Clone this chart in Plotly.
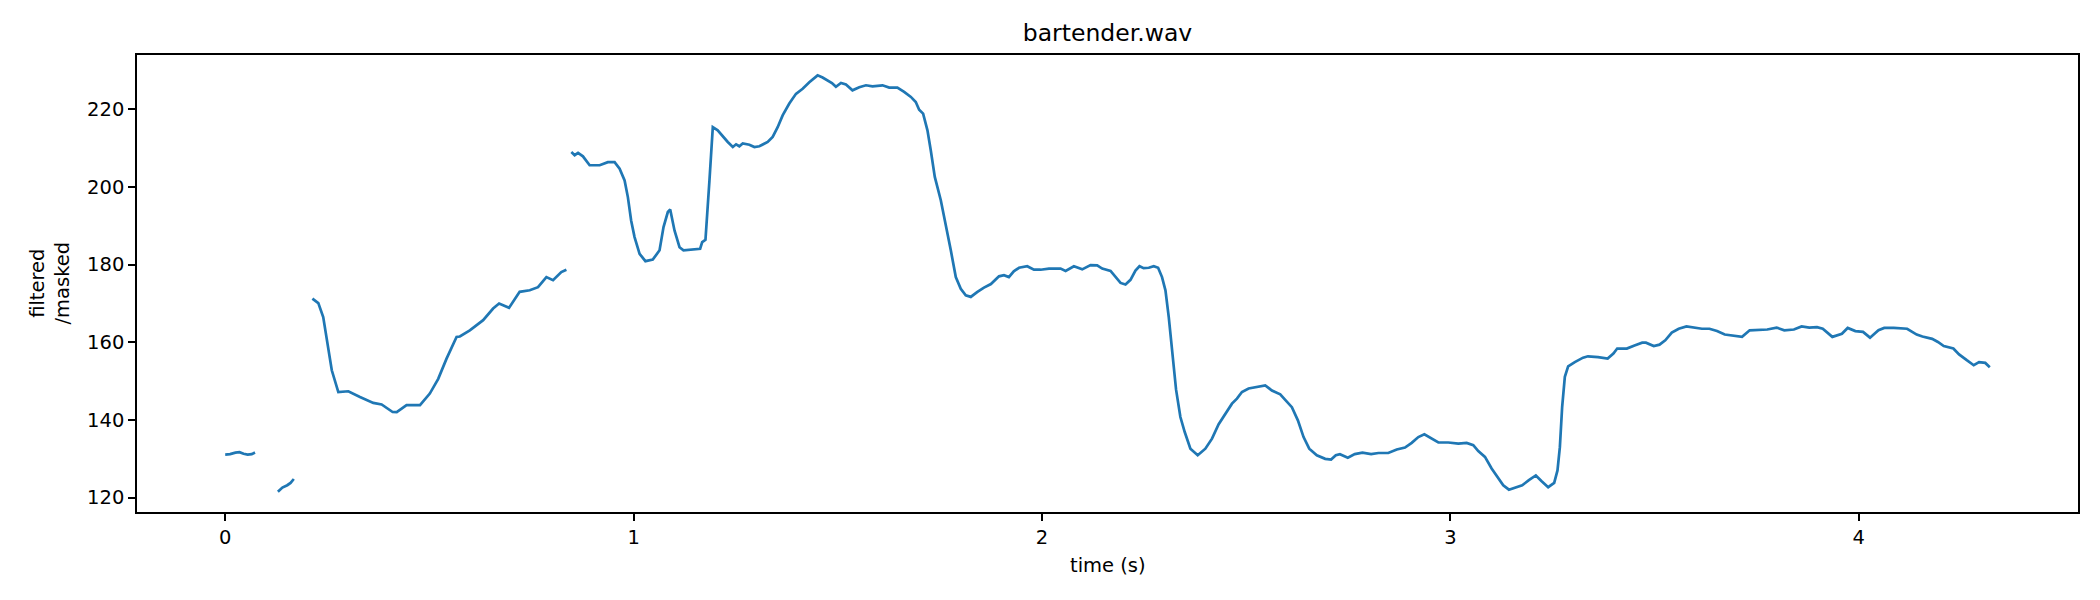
import plotly.graph_objects as go

# pitch track, four voiced runs separated by gaps
seg1_t = [0.0, 0.012, 0.025, 0.035, 0.045, 0.055, 0.065, 0.073]
seg1_hz = [131.1, 131.2, 131.6, 131.7, 131.3, 131.1, 131.2, 131.6]

seg2_t = [0.129, 0.14, 0.152, 0.16, 0.168]
seg2_hz = [121.5, 122.6, 123.2, 123.8, 124.8]

seg3_t = [0.2135, 0.228, 0.240, 0.2526, 0.261, 0.277, 0.3015, 0.330, 0.3626, 0.383,
          0.410, 0.42, 0.444, 0.477, 0.501, 0.5216, 0.542, 0.5665, 0.5746, 0.599,
          0.6316, 0.656, 0.6707, 0.695, 0.721, 0.7457, 0.766, 0.7865, 0.8028, 0.823,
          0.8355]
seg3_hz = [171.25, 170.1, 166.5, 158.8, 152.8, 147.2, 147.4, 145.9, 144.4, 144.0,
           142.05, 142.0, 143.8, 143.8, 146.8, 150.6, 155.8, 161.4, 161.5, 163.1,
           165.7, 168.7, 170.0, 168.9, 173.0, 173.4, 174.2, 176.8, 176.0, 178.1,
           178.7]

seg4_t = [0.8476, 0.8557, 0.864, 0.876, 0.8924, 0.917, 0.937, 0.9535, 0.9658, 0.978,
          0.986, 0.994, 1.0024, 1.0147, 1.029, 1.047, 1.0636, 1.0733, 1.0839, 1.0897,
          1.1002, 1.1125, 1.1222, 1.145, 1.163, 1.168, 1.176, 1.1858, 1.194, 1.206,
          1.2225, 1.2306, 1.243, 1.251, 1.259, 1.2673, 1.2836, 1.2958, 1.308, 1.316,
          1.3284, 1.3406, 1.3528, 1.365, 1.3813, 1.3976, 1.414, 1.4303, 1.4506, 1.4628,
          1.475, 1.4857, 1.4955, 1.5078, 1.52, 1.536, 1.5526, 1.569, 1.585, 1.6096,
          1.626, 1.646, 1.6625, 1.679, 1.691, 1.6993, 1.709, 1.7196, 1.7278, 1.7376,
          1.7523, 1.7645, 1.7768, 1.789, 1.8012, 1.8134, 1.8257, 1.842, 1.858, 1.875,
          1.8826, 1.8948, 1.907, 1.919, 1.931, 1.9438, 1.964, 1.9804, 1.9967, 2.0171,
          2.0334, 2.0456, 2.0579, 2.0782, 2.0986, 2.119, 2.1352, 2.1475, 2.168, 2.18,
          2.1924, 2.2046, 2.2168, 2.229, 2.2388, 2.249, 2.2616, 2.2738, 2.2844, 2.294,
          2.3024, 2.3105, 2.3186, 2.3284, 2.339, 2.3496, 2.3635, 2.3814, 2.4001, 2.4164,
          2.4327, 2.449, 2.4653, 2.4775, 2.4897, 2.506, 2.5305, 2.5468, 2.5631, 2.5835,
          2.5957, 2.612, 2.6267, 2.6406, 2.6545, 2.673, 2.6936, 2.708, 2.7196, 2.7297,
          2.749, 2.766, 2.7848, 2.806, 2.824, 2.848, 2.8688, 2.889, 2.9054, 2.9217,
          2.9364, 2.9527, 2.9707, 2.995, 3.0196, 3.04, 3.0562, 3.0684, 3.0848, 3.1011,
          3.1174, 3.1296, 3.1435, 3.158, 3.176, 3.1923, 3.2094, 3.223, 3.2396, 3.2543,
          3.2624, 3.2682, 3.2738, 3.2804, 3.2885, 3.3048, 3.325, 3.337, 3.3617, 3.3852,
          3.3993, 3.4087, 3.4322, 3.451, 3.4699, 3.479, 3.4982, 3.5122, 3.5263, 3.5423,
          3.5593, 3.5782, 3.597, 3.616, 3.6346, 3.653, 3.672, 3.6907, 3.7144, 3.733,
          3.7568, 3.776, 3.799, 3.8178, 3.8413, 3.8602, 3.879, 3.8978, 3.912, 3.9354,
          3.9589, 3.973, 3.9918, 4.0106, 4.0277, 4.0484, 4.0625, 4.086, 4.1186, 4.1421,
          4.156, 4.1799, 4.194, 4.2083, 4.2318, 4.2458, 4.2646, 4.2817, 4.2947, 4.31,
          4.321]
seg4_hz = [209.0, 208.2, 208.8, 207.9, 205.6, 205.6, 206.4, 206.4, 204.7, 201.7,
           197.4, 191.4, 187.1, 182.8, 180.9, 181.3, 183.7, 189.7, 193.55, 194.2,
           188.8, 184.5, 183.7, 183.9, 184.1, 185.8, 186.4, 201.7, 215.4, 214.6,
           212.45, 211.6, 210.3, 211.0, 210.5, 211.2, 210.9, 210.3, 210.5, 211.0,
           211.6, 212.9, 215.4, 218.45, 221.5, 224.0, 225.3, 227.0, 228.75, 228.2,
           227.5, 226.8, 225.8, 226.8, 226.4, 224.9, 225.7, 226.2, 225.9, 226.2,
           225.6, 225.6, 224.5, 223.2, 221.9, 219.9, 218.9, 214.6, 209.4, 202.6,
           196.6, 190.6, 183.7, 176.8, 173.8, 172.1, 171.7, 173.0, 174.1, 175.0,
           175.8, 177.0, 177.3, 176.8, 178.3, 179.2, 179.6, 178.7, 178.7, 179.0,
           179.0, 179.0, 178.4, 179.6, 178.8, 179.9, 179.8, 179.0, 178.4, 177.0,
           175.3, 174.9, 176.1, 178.5, 179.6, 179.1, 179.2, 179.6, 179.2, 176.8,
           173.4, 166.5, 157.9, 147.8, 140.75, 136.9, 132.6, 130.9, 132.6, 135.2,
           138.9, 141.6, 144.2, 145.5, 147.2, 148.1, 148.5, 148.9, 147.6, 146.6,
           145.2, 143.3, 139.9, 135.6, 132.6, 130.9, 130.0, 129.8, 130.9, 131.2,
           130.3, 131.2, 131.6, 131.2, 131.5, 131.5, 132.4, 132.9, 134.1, 135.6,
           136.3, 135.2, 134.2, 134.2, 133.9, 134.1, 133.5, 132.0, 130.5, 127.5,
           124.9, 123.2, 122.05, 122.6, 123.2, 124.5, 125.7, 124.3, 122.7, 123.8,
           127.0, 133.0, 143.3, 151.1, 153.8, 154.9, 156.05, 156.4, 156.2, 155.8,
           157.1, 158.4, 158.4, 159.2, 159.9, 159.9, 159.05, 159.4, 160.5, 162.5,
           163.5, 164.1, 163.8, 163.5, 163.5, 162.9, 162.0, 161.8, 161.4, 163.1,
           163.3, 163.3, 163.8, 163.1, 163.3, 164.1, 163.8, 163.9, 163.5, 161.4,
           162.2, 163.7, 162.9, 162.7, 161.2, 163.1, 163.7, 163.7, 163.5, 162.0,
           161.5, 160.9, 160.1, 159.05, 158.4, 156.9, 155.4, 154.1, 154.9, 154.7,
           153.6]

x_ticks = [0, 1, 2, 3, 4]
y_ticks = [120, 140, 160, 180, 200, 220]

# join segments with None so the line breaks at unvoiced parts
t_all, hz_all = [], []
for ts, hs in [(seg1_t, seg1_hz), (seg2_t, seg2_hz), (seg3_t, seg3_hz), (seg4_t, seg4_hz)]:
    t_all += ts + [None]
    hz_all += hs + [None]

FONT = 'DejaVu Sans'
fig = go.Figure()
fig.add_trace(go.Scatter(x=t_all, y=hz_all, mode='lines', connectgaps=False,
                         line=dict(color='#1f77b4', width=2.7), showlegend=False))

axis_style = dict(showline=True, linecolor='black', linewidth=1.5, mirror=True,
                  ticks='outside', ticklen=7, tickwidth=1.5, tickcolor='black',
                  showgrid=False, zeroline=False,
                  tickfont=dict(family=FONT, size=19.5, color='black'))
fig.update_xaxes(range=[-0.216, 4.537], tickvals=x_ticks, **axis_style)
fig.update_yaxes(range=[116.3, 234.0], tickvals=y_ticks, **axis_style)

fig.update_layout(
    width=2100, height=600,
    margin=dict(l=137, r=22, t=55, b=88),
    plot_bgcolor='white', paper_bgcolor='white',
    title=dict(text='bartender.wav', x=0.5, xref='paper', y=1 - 32.7 / 600,
               yanchor='middle', font=dict(family=FONT, size=23.5, color='black')),
    annotations=[
        dict(text='filtered<br>/masked', textangle=-90, xref='paper', yref='paper',
             x=0, y=0.5, xanchor='center', yanchor='middle', xshift=-88, showarrow=False,
             font=dict(family=FONT, size=19.5, color='black')),
        dict(text='time (s)', xref='paper', yref='paper', x=0.5, y=0,
             xanchor='center', yanchor='middle', yshift=-53, showarrow=False,
             font=dict(family=FONT, size=19.5, color='black')),
    ],
)

# page body has a default 8px margin, drop it so the figure sits at the window corner
fig.write_html('out.html', config={'displayModeBar': False},
               post_script="document.body.style.margin='0';")
